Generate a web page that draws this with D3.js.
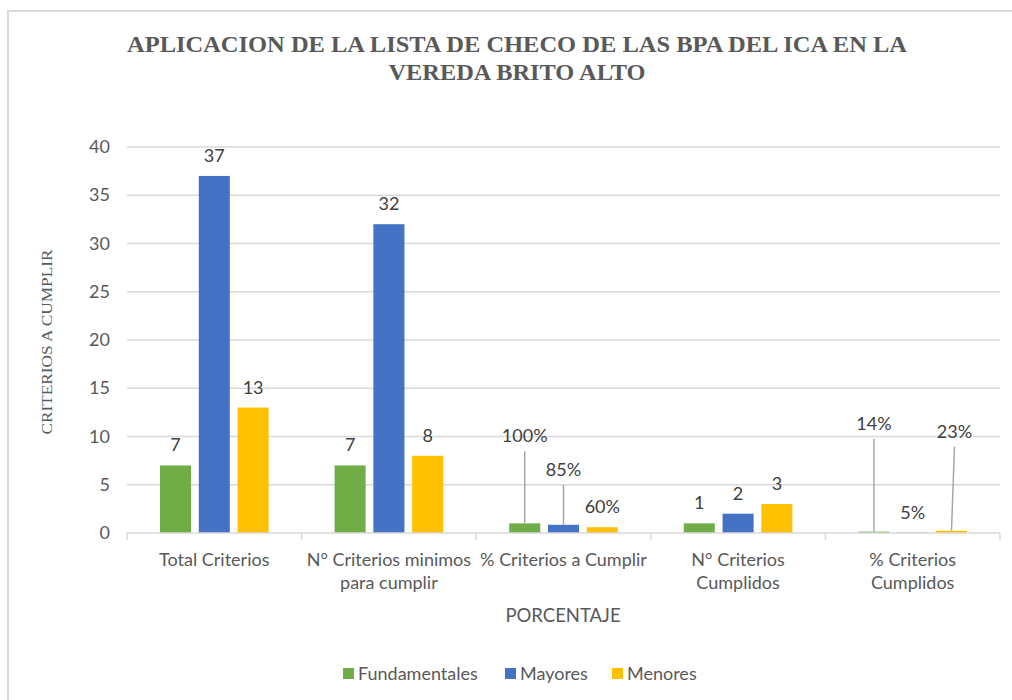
<!DOCTYPE html>
<html>
<head>
<meta charset="utf-8">
<script src="https://cdn.jsdelivr.net/npm/d3@7"></script>
<style>
  html, body { margin: 0; padding: 0; background: #fff; }
  svg { display: block; }
</style>
</head>
<body>
<svg id="chart" width="1012" height="700"></svg>
<script>
const categories = [
  ["Total Criterios"],
  ["N° Criterios minimos", "para cumplir"],
  ["% Criterios a Cumplir"],
  ["N° Criterios", "Cumplidos"],
  ["% Criterios", "Cumplidos"]
];
const seriesNames = ["Fundamentales", "Mayores", "Menores"];
const fundamentales = [7, 7, 1, 1, 0.14];
const mayores = [37, 32, 0.85, 2, 0.05];
const menores = [13, 8, 0.6, 3, 0.23];
const labelFundamentales = ["7", "7", "100%", "1", "14%"];
const labelMayores = ["37", "32", "85%", "2", "5%"];
const labelMenores = ["13", "8", "60%", "3", "23%"];
const yTicks = [0, 5, 10, 15, 20, 25, 30, 35, 40];
const colors = ["#70AD47", "#4472C4", "#FFC000"];

const values = [fundamentales, mayores, menores];
const labels = [labelFundamentales, labelMayores, labelMenores];

const FONT = "Lato, 'Open Sans', sans-serif";
const FS = 18;

const svg = d3.select("#chart");
const plotLeft = 127, plotRight = 1000, plotTop = 147, plotBottom = 533;

// chart border
svg.append("rect").attr("x", 8).attr("y", 11).attr("width", 1020).attr("height", 700)
  .attr("fill", "none").attr("stroke", "#d9d9d9").attr("stroke-width", 2);

const x0 = d3.scaleBand().domain(d3.range(categories.length)).range([plotLeft, plotRight]).padding(0);
const x1 = d3.scaleBand().domain(d3.range(seriesNames.length))
  .range([33, x0.bandwidth() - 33]).paddingInner(0.2);
const y = d3.scaleLinear().domain([0, 40]).range([plotBottom, plotTop]);

// gridlines
svg.append("g").selectAll("line").data(yTicks.filter(t => t > 0)).join("line")
  .attr("x1", plotLeft).attr("x2", plotRight)
  .attr("y1", d => y(d)).attr("y2", d => y(d))
  .attr("stroke", "#d9d9d9").attr("stroke-width", 1.3);

// y tick labels
svg.append("g").selectAll("text").data(yTicks).join("text")
  .attr("x", 110).attr("y", d => y(d) + 6)
  .attr("text-anchor", "end")
  .attr("font-family", FONT).attr("font-size", FS)
  .attr("fill", "#595959").text(d => d);

// bars
const groups = svg.append("g").selectAll("g").data(categories).join("g")
  .attr("transform", (d, i) => `translate(${x0(i)},0)`);

groups.each(function(c, ci) {
  const g = d3.select(this);
  seriesNames.forEach((s, si) => {
    const v = values[si][ci];
    g.append("rect")
      .attr("x", x1(si)).attr("width", x1.bandwidth())
      .attr("y", y(v)).attr("height", plotBottom - y(v))
      .attr("fill", colors[si]);
  });
});

// x axis line and ticks
svg.append("line").attr("x1", plotLeft).attr("x2", plotRight).attr("y1", plotBottom).attr("y2", plotBottom)
  .attr("stroke", "#d9d9d9").attr("stroke-width", 1.5);
svg.append("g").selectAll("line").data(d3.range(categories.length + 1)).join("line")
  .attr("x1", d => plotLeft + d * x0.step()).attr("x2", d => plotLeft + d * x0.step())
  .attr("y1", plotBottom).attr("y2", plotBottom + 7)
  .attr("stroke", "#d9d9d9").attr("stroke-width", 1.5);

// data labels (some moved up with leader lines)
const moved = { "2-0": [0, -67], "2-1": [0, -35], "4-0": [0, -88], "4-2": [3, -79] };
const lblG = svg.append("g");
categories.forEach((c, ci) => {
  seriesNames.forEach((s, si) => {
    const v = values[si][ci];
    const cx = x0(ci) + x1(si) + x1.bandwidth() / 2;
    const baseY = y(v) - 14;
    const off = moved[ci + "-" + si] || [0, 0];
    if (moved[ci + "-" + si]) {
      lblG.append("line")
        .attr("x1", cx).attr("y1", y(v))
        .attr("x2", cx + off[0]).attr("y2", baseY + off[1] + 9)
        .attr("stroke", "#a6a6a6").attr("stroke-width", 1.5);
    }
    lblG.append("text")
      .attr("x", cx + off[0]).attr("y", baseY + off[1])
      .attr("text-anchor", "middle")
      .attr("font-family", FONT).attr("font-size", FS)
      .attr("fill", "#404040").text(labels[si][ci]);
  });
});

// category labels
const catG = svg.append("g").selectAll("text").data(categories).join("text")
  .attr("text-anchor", "middle")
  .attr("font-family", FONT).attr("font-size", FS)
  .attr("fill", "#595959");
catG.each(function(lines, i) {
  const t = d3.select(this);
  lines.forEach((ln, li) => {
    t.append("tspan").attr("x", x0(i) + x0.bandwidth() / 2).attr("y", 566 + li * 23).text(ln);
  });
});

// x axis title
svg.append("text").attr("x", 563).attr("y", 622).attr("text-anchor", "middle")
  .attr("font-family", FONT).attr("font-size", 18.5)
  .attr("fill", "#595959").text("PORCENTAJE");

// y axis title
svg.append("text").attr("transform", "translate(52,342) rotate(-90)")
  .attr("text-anchor", "middle")
  .attr("font-family", "'Liberation Serif', 'Times New Roman', serif").attr("font-size", 15.5)
  .attr("fill", "#595959").attr("textLength", 185).attr("lengthAdjust", "spacingAndGlyphs")
  .text("CRITERIOS  A CUMPLIR");

// title
const titleLines = ["APLICACION DE LA LISTA DE CHECO DE LAS BPA DEL ICA EN LA", "VEREDA BRITO ALTO"];
const titleLens = [780, 257];
titleLines.forEach((t, i) => {
  svg.append("text").attr("x", 517).attr("y", 52 + i * 28).attr("text-anchor", "middle")
    .attr("font-family", "'Liberation Serif', 'Times New Roman', serif")
    .attr("font-weight", "bold").attr("font-size", 24)
    .attr("fill", "#595959")
    .attr("textLength", titleLens[i]).attr("lengthAdjust", "spacingAndGlyphs")
    .text(t);
});

// legend
const legendX = [343, 505, 612];
const leg = svg.append("g").selectAll("g").data(seriesNames).join("g")
  .attr("transform", (d, i) => `translate(${legendX[i]},668)`);
leg.append("rect").attr("width", 11).attr("height", 11).attr("fill", (d, i) => colors[i]);
leg.append("text").attr("x", 15).attr("y", 11.5)
  .attr("font-family", FONT).attr("font-size", FS)
  .attr("fill", "#595959").text(d => d);
</script>
</body>
</html>
